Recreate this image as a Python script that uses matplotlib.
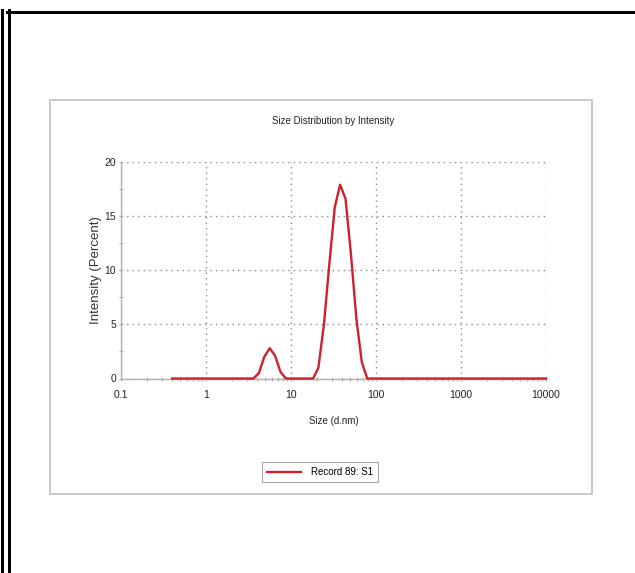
import numpy as np
import matplotlib
matplotlib.use('Agg')
import matplotlib.pyplot as plt
from matplotlib.lines import Line2D
from matplotlib.patches import Rectangle
from matplotlib.ticker import LogLocator, MultipleLocator, FixedFormatter, FixedLocator

# size bins (d.nm) and intensity (%)
sizes = [0.4, 3.61, 4.19, 4.85, 5.62, 6.50, 7.53, 8.72,
         18.2, 21.0, 24.4, 28.2, 32.7, 37.8, 43.8, 50.7, 58.8, 68.1, 78.8,
         10000]
intensity = [0.0, 0.0, 0.5, 2.0, 2.8, 2.1, 0.6, 0.0,
             0.0, 1.0, 5.0, 10.5, 15.8, 17.9, 16.6, 11.5, 5.5, 1.5, 0.0,
             0.0]
series_name = 'Record 89: S1'
x_ticks = [0.1, 1, 10, 100, 1000, 10000]
x_labels = ['0.1', '1', '10', '100', '1000', '10000']
y_ticks = [0, 5, 10, 15, 20]

plt.rcParams['font.family'] = ['Liberation Sans', 'DejaVu Sans']
W, H = 635, 573
fig = plt.figure(figsize=(W / 100, H / 100), dpi=100)

def fx(px):
    return px / W

def fy(py):
    return 1 - py / H

# outer black frame (double line on left, single on top)
lw_frame = 3 * 72 / 100
fig.add_artist(Line2D([fx(1.5), fx(1.5)], [fy(10), 0], color='black', lw=lw_frame))
fig.add_artist(Line2D([fx(8.5), fx(8.5)], [fy(10), 0], color='black', lw=lw_frame))
fig.add_artist(Line2D([fx(7), 1], [fy(11.5), fy(11.5)], color='black', lw=lw_frame))

# grey panel
fig.add_artist(Rectangle((fx(50), fy(494)), fx(592) - fx(50), fy(100) - fy(494),
                         transform=fig.transFigure, facecolor='white',
                         edgecolor='#c4c4c4', lw=1.3, zorder=0))

ax = fig.add_axes([fx(121), fy(378.5), fx(546) - fx(121), fy(162) - fy(378.5)])
ax.set_xscale('log')
ax.set_xlim(0.1, 10000)
ax.set_ylim(0, 20)

ax.plot(sizes, intensity, color='#d0202a', lw=1.7, label=series_name, zorder=3,
        clip_on=False)

ax.xaxis.set_major_locator(FixedLocator(x_ticks))
ax.xaxis.set_major_formatter(FixedFormatter(x_labels))
ax.xaxis.set_minor_locator(LogLocator(base=10, subs=np.arange(2, 10)))
ax.yaxis.set_major_locator(FixedLocator(y_ticks))
ax.yaxis.set_minor_locator(MultipleLocator(2.5))

ax.grid(True, which='major', color='#8a8a8a', linestyle=(0, (1, 3)), lw=1.0)
for s in ['top', 'right']:
    ax.spines[s].set_visible(False)
for s in ['left', 'bottom']:
    ax.spines[s].set_color('#b0b0b0')
    ax.spines[s].set_linewidth(1.0)

ax.tick_params(axis='both', which='major', length=3, width=0.8, color='#b0b0b0',
               direction='inout', labelsize=7.5, labelcolor='#222222')
ax.tick_params(axis='both', which='minor', length=3, width=0.8, color='#b0b0b0',
               direction='inout')
ax.tick_params(axis='x', which='major', pad=7)
ax.tick_params(axis='y', which='major', pad=2)

ax.set_title('Size Distribution by Intensity', fontsize=7, color='#222222', pad=27)
ax.set_xlabel('Size (d.nm)', fontsize=7, color='#222222', labelpad=11)
ax.set_ylabel('Intensity (Percent)', fontsize=9.5, color='#333333', labelpad=2)

leg = fig.legend(loc='center', bbox_to_anchor=(fx(320), fy(472)), fontsize=7,
                 fancybox=False, edgecolor='#a8a8a8', handlelength=3.5,
                 borderpad=0.5, handletextpad=1.1, framealpha=1)
leg.get_frame().set_linewidth(0.8)

fig.savefig('out.png', dpi=100)
